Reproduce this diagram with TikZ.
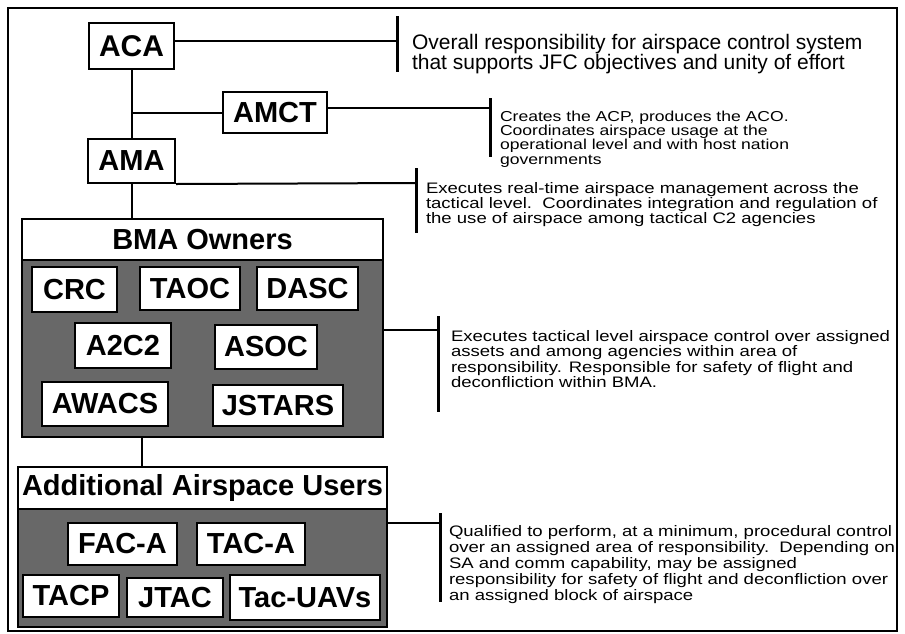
\documentclass[tikz,border=0pt]{standalone}
\usepackage{fontspec}
\setmainfont{Liberation Sans}
\newfontfamily\widefont[FakeStretch=1.22]{Liberation Sans}
\usetikzlibrary{positioning}
\definecolor{panelgray}{RGB}{104,104,104}

\begin{document}
\begin{tikzpicture}[x=1pt, y=-1pt, line width=2pt,
  b/.style={draw, fill=white, inner sep=0pt, font=\bfseries\fontsize{29}{29}\selectfont},
  head/.style={b, font=\bfseries\fontsize{29}{29}\selectfont},
  panel/.style={draw, fill=panelgray, inner sep=0pt},
  tick/.style={line width=3pt},
  desc/.style={anchor=north west, inner sep=0pt, align=left, font=\widefont\fontsize{15.2}{15.5}\selectfont}]
\useasboundingbox (0,0) rectangle (905,633);
\draw[line width=1.6pt] (8,8) rectangle (897,631);

% command chain
\node[b, minimum width=85pt, minimum height=46pt, font=\bfseries\fontsize{30}{30}\selectfont] (aca) at (131.5,46) {ACA};
\node[b, minimum width=104pt, minimum height=41pt] (amct) at (275,112.5) {AMCT};
\node[b, minimum width=87pt, minimum height=44pt] (ama) at (131.5,161) {AMA};

% BMA owners
\node[panel, minimum width=361pt, minimum height=177pt] (bma) at (202.5,348.5) {};
\node[head, minimum width=361pt, minimum height=41pt] (bmahead) at (202.5,239.5) {BMA Owners};
\node[b, minimum width=85pt, minimum height=45pt] (crc) at (74.5,289.5) {CRC};
\node[b, minimum width=100pt, minimum height=43pt] (taoc) at (190,288.5) {TAOC};
\node[b, minimum width=101pt, minimum height=43pt] (dasc) at (307.5,288.5) {DASC};
\node[b, minimum width=96pt, minimum height=45pt] (atwoctwo) at (123,345.5) {A2C2};
\node[b, minimum width=102pt, minimum height=44pt] (asoc) at (266,347) {ASOC};
\node[b, minimum width=126pt, minimum height=44pt] (awacs) at (105,404) {AWACS};
\node[b, minimum width=130pt, minimum height=41pt] (jstars) at (278,405.5) {JSTARS};

% additional users
\node[panel, minimum width=369pt, minimum height=118pt] (aau) at (202.5,568) {};
\node[head, minimum width=369pt, minimum height=42pt] (aauhead) at (202.5,488) {Additional Airspace Users};
\node[b, minimum width=109pt, minimum height=42pt] (faca) at (122.5,544) {FAC-A};
\node[b, minimum width=108pt, minimum height=42pt] (taca) at (251,544) {TAC-A};
\node[b, minimum width=96pt, minimum height=42pt] (tacp) at (71,596) {TACP};
\node[b, minimum width=96pt, minimum height=39pt] (jtac) at (175,597.5) {JTAC};
\node[b, minimum width=150pt, minimum height=45pt] (uavs) at (305,597.5) {Tac-UAVs};

\draw (aca.south) -- (ama.north);
\draw (aca.south |- amct.west) -- (amct.west);
\draw (ama.south) -- (ama.south |- bmahead.north);
\draw ([xshift=-60.5pt]bma.south) -- ([xshift=-60.5pt]aauhead.north);

% responsibility brackets
\coordinate (acaend) at (397,41);
\coordinate (amctend) at (490,108);
\coordinate (amaend) at (416,183);
\coordinate (bmaend) at (438,330);
\coordinate (aauend) at (440,523);
\draw (aca.east |- acaend) -- (acaend);
\draw (amct.east |- amctend) -- (amctend);
\draw (ama.south east) -- (amaend);
\draw (bma.east |- bmaend) -- (bmaend);
\draw (aau.east |- aauend) -- (aauend);
\draw[tick] (397,16) -- (397,72);
\draw[tick] (490,98) -- (490,157);
\draw[tick] (416,168) -- (416,233);
\draw[tick] (438,316) -- (438,412);
\draw[tick] (440,513) -- (440,602);

\node[desc, font=\fontsize{21}{15.5}\selectfont] (acatext) at (411,33)
  {Overall responsibility for airspace control system\\that supports JFC objectives and unity of effort};
\node[desc, font=\widefont\fontsize{14.4}{14.2}\selectfont] (amcttext) at (499,110)
  {Creates the ACP, produces the ACO.\\Coordinates airspace usage at the\\operational level and with host nation\\governments};
\node[desc, font=\widefont\fontsize{15.2}{15}\selectfont] (amatext) at (425,181)
  {Executes real-time airspace management across the\\tactical level.\ \ Coordinates integration and regulation of\\the use of airspace among tactical C2 agencies};
\node[desc] (bmatext) at (450,329)
  {Executes tactical level airspace control over assigned\\assets and among agencies within area of\\responsibility. Responsible for safety of flight and\\deconfliction within BMA.};
\node[desc, font=\widefont\fontsize{15.2}{16}\selectfont] (aautext) at (448,524)
  {Qualified to perform, at a minimum, procedural control\\over an assigned area of responsibility.\ \ Depending on\\SA and comm capability, may be assigned\\responsibility for safety of flight and deconfliction over\\an assigned block of airspace};
\end{tikzpicture}
\end{document}
